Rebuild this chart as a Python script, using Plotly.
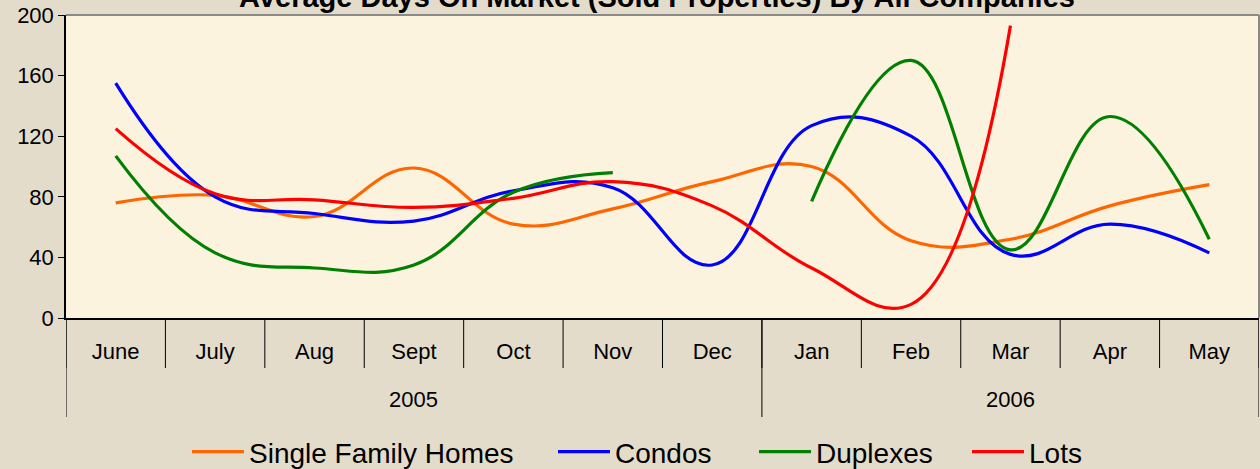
import plotly.graph_objects as go

months = ["June", "July", "Aug", "Sept", "Oct", "Nov", "Dec", "Jan", "Feb", "Mar", "Apr", "May"]
years = ["2005", "2006"]
year_first_month = [0, 7]          # index of first month of each year group
single_family = [76, 81, 67, 99, 62, 72, 90, 100, 51, 52, 74, 88]
condos = [155, 80, 69, 64, 84, 86, 35, 127, 120, 42, 62, 43]
duplexes = [107, 43, 33, 35, 83, 96, None, 77, 170, 45, 133, 52]
lots = [125, 82, 78, 73, 79, 90, 74, 33, 9, 193, None, None]

series = [
    ("Single Family Homes", single_family, "#FF6600"),
    ("Condos", condos, "#0000FF"),
    ("Duplexes", duplexes, "#008000"),
    ("Lots", lots, "#FF0000"),
]
legend_left_px = [187, 553, 754, 967]

FONT = "Liberation Sans, Arial, sans-serif"
W, H = 1260, 469
ML, MR, MT, MB = 66, 1, 15, 151
PH = H - MT - MB

fig = go.Figure()
legend_layout = {}
for k, (name, vals, col) in enumerate(series):
    lname = "legend" if k == 0 else f"legend{k + 1}"
    fig.add_trace(go.Scatter(
        x=months, y=vals, name=name, mode="lines",
        line=dict(color=col, width=3.2, shape="spline", smoothing=1.2),
        connectgaps=False, legend=lname,
    ))
    legend_layout[lname] = dict(
        xref="container", yref="container",
        x=legend_left_px[k] / W, xanchor="left",
        y=1 - 452 / H, yanchor="middle",
        font=dict(family=FONT, size=28, color="black"),
        bgcolor="rgba(0,0,0,0)", itemwidth=52,
    )

shapes = []
n = len(months)
# month dividers below axis
for i in range(n + 1):
    shapes.append(dict(type="line", xref="x", yref="paper",
                       x0=i - 0.5, x1=i - 0.5, y0=0, y1=-50 / PH,
                       line=dict(color="black", width=1)))
# year dividers
bounds = year_first_month + [n]
for b in bounds:
    shapes.append(dict(type="line", xref="x", yref="paper",
                       x0=b - 0.5, x1=b - 0.5, y0=0, y1=-99 / PH,
                       line=dict(color="black", width=1)))
# plot-area border (top / right)
shapes.append(dict(type="line", xref="paper", yref="paper", x0=0, x1=1, y0=1, y1=1,
                   line=dict(color="#8A8A8A", width=2), layer="below"))
shapes.append(dict(type="line", xref="paper", yref="paper", x0=1, x1=1, y0=0, y1=1,
                   line=dict(color="#8A8A8A", width=2), layer="below"))

annotations = []
for k, yr in enumerate(years):
    a = bounds[k]
    b = bounds[k + 1] - 1
    annotations.append(dict(text=yr, xref="x", yref="paper", x=(a + b) / 2,
                            y=-81 / PH, showarrow=False, yanchor="middle",
                            font=dict(family=FONT, size=22, color="black")))

fig.update_layout(
    width=W, height=H,
    margin=dict(l=ML, r=MR, t=MT, b=MB, pad=0, autoexpand=False),
    paper_bgcolor="#E4DCCB",
    plot_bgcolor="#FCF3DE",
    title=dict(text="<b>Average Days On Market (Sold Properties) By All Companies</b>",
               xref="container", x=657 / W, xanchor="center",
               yref="container", y=1 - 7 / H, yanchor="bottom", pad=dict(b=0, t=0),
               font=dict(family=FONT, size=29, color="black")),
    xaxis=dict(type="category", range=[-0.5, n - 0.5], showline=True, linecolor="black",
               linewidth=1.5, ticks="", showgrid=False, zeroline=False,
               tickfont=dict(family=FONT, size=22, color="black"),
               ticklabelstandoff=13, fixedrange=True),
    yaxis=dict(range=[0, 200], dtick=40, showline=True, linecolor="black", linewidth=1.5,
               ticks="outside", ticklen=6, tickcolor="black", showgrid=False, zeroline=False,
               tickfont=dict(family=FONT, size=22, color="black")),
    shapes=shapes,
    annotations=annotations,
    showlegend=True,
    **legend_layout,
)

fig.write_html("out.html")
